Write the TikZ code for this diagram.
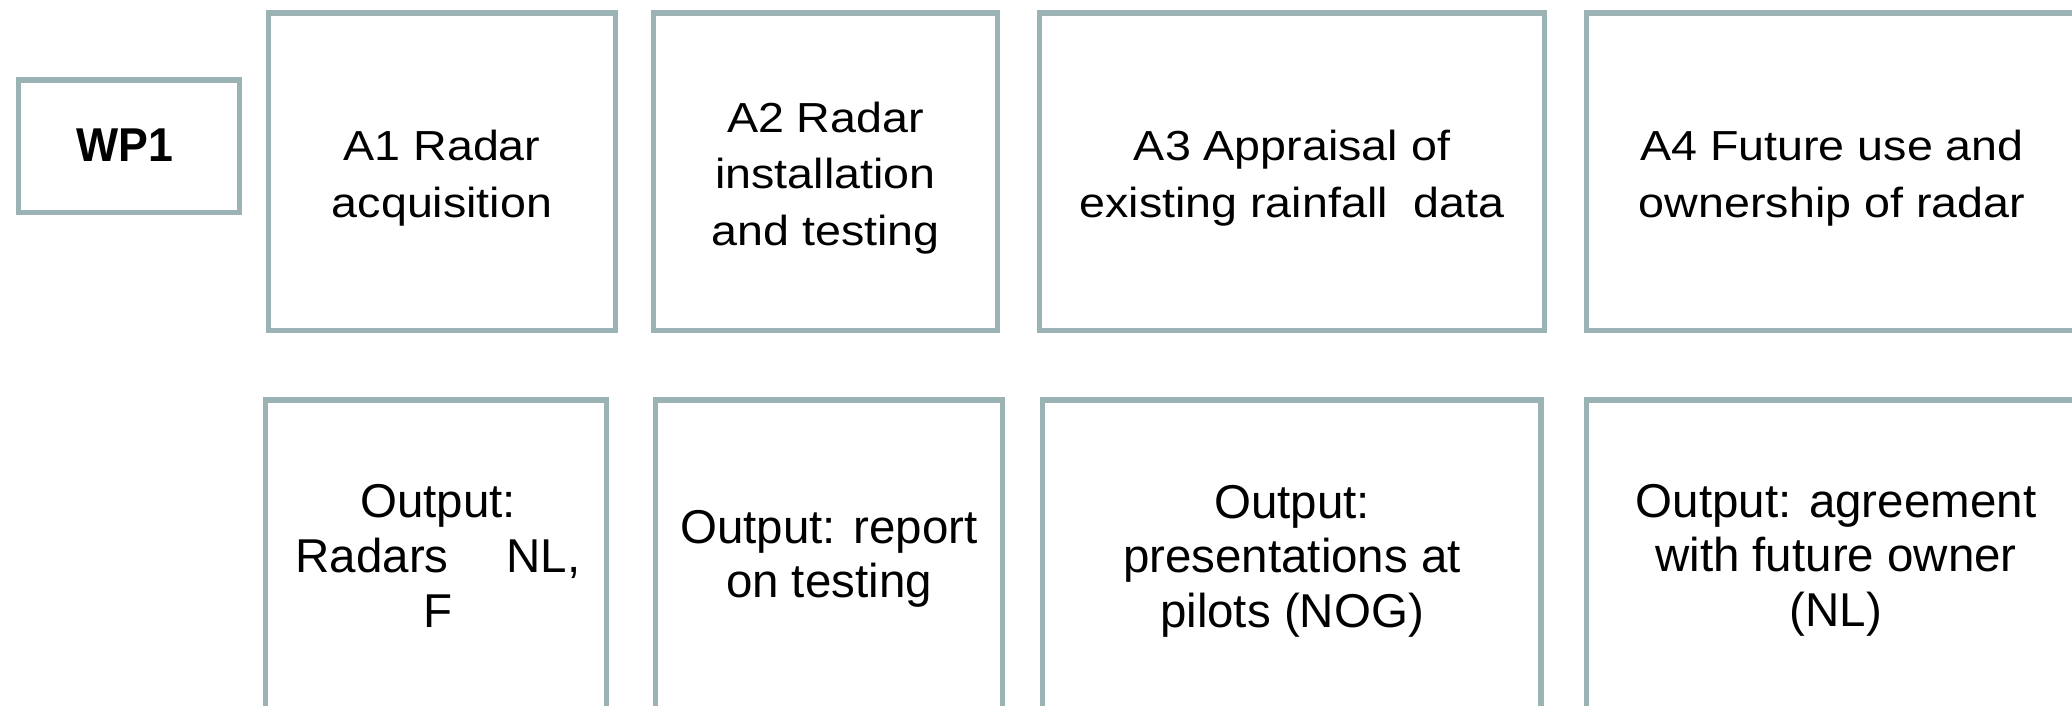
\documentclass[tikz,border=0pt]{standalone}
\usepackage{fontspec}
\setmainfont{Liberation Sans}
% Activity titles are set slightly wide, outputs in plain Arial-like widths
\newfontfamily\headfont[FakeStretch=1.11]{Liberation Sans}
\newfontfamily\outfont{Liberation Sans}
\newfontfamily\wpfont[FakeStretch=0.94]{Liberation Sans}
\definecolor{frame}{RGB}{156,179,181}

\tikzset{
  box/.style={draw=frame, line width=5.3pt, rectangle, inner sep=0pt, outer sep=0pt, fill=white},
  headtext/.style={align=center, inner sep=0pt, font=\fontsize{42pt}{56.5pt}\headfont},
  outtext/.style={align=center, inner sep=0pt, font=\fontsize{47.5pt}{54.6pt}\outfont},
  wptext/.style={inner sep=0pt, font=\fontsize{47.5pt}{54pt}\wpfont\bfseries},
}

\begin{document}
\begin{tikzpicture}[x=1pt,y=-1pt]
\useasboundingbox (0,0) rectangle (2072,706);
\fill[white] (0,0) rectangle (2072,706);
\clip (0,0) rectangle (2072,706);

% work package tag
\node[box, minimum width=221pt, minimum height=132.7pt] (wp) at (128.65,146.35) {};
\node[wptext] (wpt) at (125,145.5) {WP1};

% activities
\node[box, minimum width=346.8pt, minimum height=317.5pt] (a1) at (442.1,171.75) {};
\node[box, minimum width=344pt,   minimum height=317.5pt] (a2) at (825.5,171.75) {};
\node[box, minimum width=505pt,   minimum height=317.5pt] (a3) at (1292,171.75) {};
\node[box, minimum width=491.5pt, minimum height=317.5pt] (a4) at (1832.25,171.75) {};

\node[headtext] (a1t) at (442,178)  {A1 Radar\\acquisition};
\node[headtext] (a2t) at (825.5,178) {A2 Radar\\installation\\and testing};
\node[headtext] (a3t) at (1292,178) {A3 Appraisal of\\existing rainfall\ \ data};
\node[headtext] (a4t) at (1832,178) {A4 Future use and\\ownership of radar};

% outputs
\node[box, minimum width=341pt,   minimum height=330pt] (b1) at (436,565) {};
\node[box, minimum width=347pt,   minimum height=330pt] (b2) at (829,565) {};
\node[box, minimum width=498.5pt, minimum height=330pt] (b3) at (1291.75,565) {};
\node[box, minimum width=491.5pt, minimum height=330pt] (b4) at (1832.25,565) {};

\node[outtext] (b1t) at (438,556)  {Output:\\Radars\hspace*{58pt}NL,\\F};
\node[outtext] (b2t) at (829,559)  {Output: report\\on testing};
\node[outtext] (b3t) at (1292,561) {Output:\\presentations at\\pilots (NOG)};
\node[outtext] (b4t) at (1836,560) {Output: agreement\\with future owner\\(NL)};
\end{tikzpicture}
\end{document}
